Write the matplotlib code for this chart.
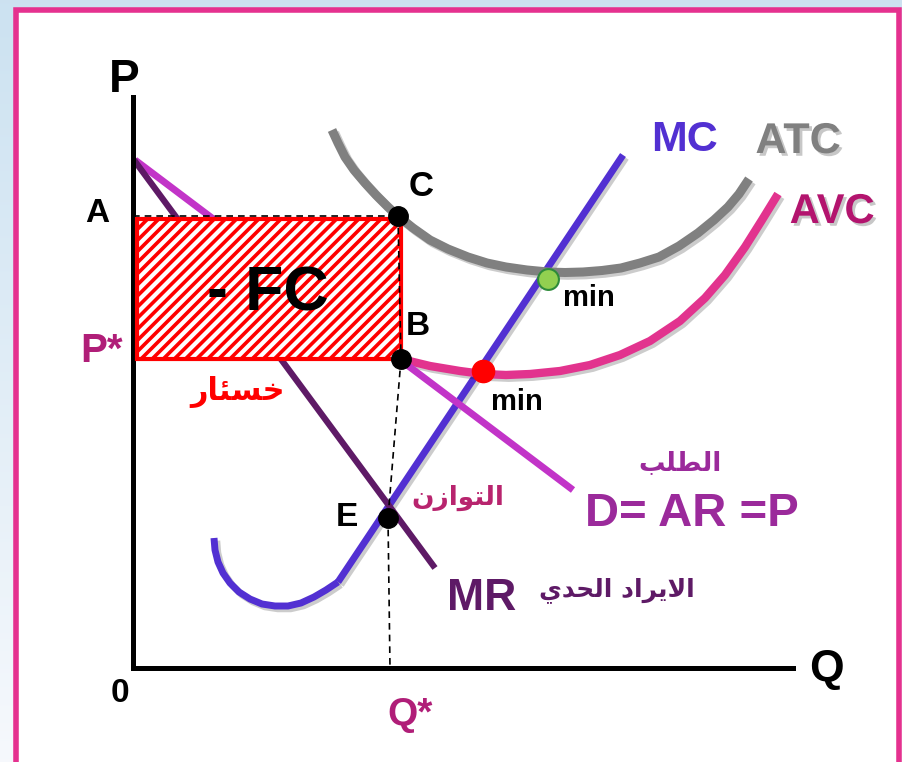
import matplotlib
matplotlib.use('Agg')
import matplotlib.pyplot as plt
import matplotlib.patheffects as pe
from matplotlib.patches import Rectangle
import numpy as np

plt.rcParams['font.family'] = ['Liberation Sans', 'DejaVu Sans']
plt.rcParams['font.weight'] = 'bold'
plt.rcParams['hatch.linewidth'] = 2.6

# curve data (Q, P)
d_q = [0.2, 44.0]
d_p = [50.8, 17.8]
mr_q = [0.1, 30.2]
mr_p = [50.8, 10.0]
mc_hook_q = [8.1, 8.2, 8.5, 9.0, 9.7, 10.6, 11.7, 12.9, 14.2, 15.5, 16.8, 18.1, 19.3, 20.5]
mc_hook_p = [13.0, 11.8, 10.6, 9.5, 8.5, 7.6, 6.9, 6.4, 6.2, 6.2, 6.5, 7.1, 7.8, 8.6]
mc_q = [20.5, 49.0]
mc_p = [8.6, 51.3]
atc_q = [19.9, 20.5, 21.2, 22.1, 23.2, 24.3, 25.5, 26.5, 28.0, 29.7, 31.5, 33.5, 35.4, 37.3,
         39.4, 41.5, 43.2, 45.0, 46.9, 48.8, 50.7, 52.6, 54.6, 56.5, 58.1, 59.5, 60.6, 61.6]
atc_p = [53.8, 52.5, 51.1, 49.8, 48.5, 47.3, 46.1, 45.2, 44.0, 42.8, 41.9, 41.1, 40.5, 40.1,
         39.8, 39.6, 39.55, 39.6, 39.75, 40.0, 40.5, 41.1, 42.2, 43.5, 44.8, 46.1, 47.4, 48.9]
avc_q = [26.8, 29.7, 32.7, 35.0, 37.3, 39.7, 42.7, 45.7, 48.7, 51.7, 54.7, 57.2, 59.2, 61.2,
         62.9, 64.5]
avc_p = [30.9, 30.2, 29.7, 29.4, 29.3, 29.4, 29.7, 30.3, 31.3, 32.7, 34.7, 37.0, 39.3, 42.1,
         44.8, 47.4]

# key levels
q_star = 25.7
p_a = 45.2
loss_q = [0.4, 26.8]
loss_p = [30.9, 44.9]

# points C, B, E and the two minima
pt_c = (26.5, 45.2)
pt_b = (26.8, 30.9)
pt_e = (25.5, 15.0)
min_atc = (41.5, 38.9)
min_avc = (35.0, 29.7)

# arabic labels, shaped (presentation forms, visual order)
txt_loss = '\uFEAD\uFE8E\uFE8C\uFEB4\uFEA7'
txt_eq = '\uFEE5\uFEAF\uFE8D\uFEEE\uFE98\uFEDF\uFE8D'
txt_demand = '\uFE90\uFEE0\uFEC4\uFEDF\uFE8D'
txt_mr = '\uFEF1\uFEAA\uFEA4\uFEDF\uFE8D \uFEA9\uFE8D\uFEAE\uFEF3\uFEFB\uFE8D'

W, H = 903, 762
fig = plt.figure(figsize=(W / 100, H / 100), dpi=100)

# background + pink frame
bg = fig.add_axes([0, 0, 1, 1], zorder=0)
grad = np.linspace(0, 1, 256).reshape(-1, 1)
top = np.array([0.80, 0.886, 0.945])
bot = np.array([0.965, 0.975, 0.99])
img = top + (bot - top) * grad[:, :, None]
bg.imshow(img, extent=[0, W, H, 0], aspect='auto')
bg.add_patch(Rectangle((16, 10), 883, 770, facecolor='white',
                       edgecolor='#e5318f', linewidth=4))
bg.set_xlim(0, W)
bg.set_ylim(H, 0)
bg.axis('off')

ax = fig.add_axes([133 / W, 94 / H, 660 / W, 571 / H], zorder=1)
ax.patch.set_alpha(0)
ax.set_xlim(0, 66)
ax.set_ylim(0, 57.1)
for s in ['top', 'right']:
    ax.spines[s].set_visible(False)
for s in ['left', 'bottom']:
    ax.spines[s].set_linewidth(3.6)
    ax.spines[s].set_capstyle('projecting')
ax.set_xticks([])
ax.set_yticks([])

shadow = [pe.SimpleLineShadow(offset=(2, -2), shadow_color='k', alpha=0.2), pe.Normal()]
line_kw = dict(solid_capstyle='butt', solid_joinstyle='round', path_effects=shadow)

ax.plot(mc_hook_q, mc_hook_p, color='#5230d2', lw=5, **line_kw)
ax.plot(mc_q, mc_p, color='#5230d2', lw=5, **line_kw)
ax.plot(atc_q, atc_p, color='#808080', lw=6.5, **line_kw)
ax.plot(avc_q, avc_p, color='#e2338e', lw=6, **line_kw)
ax.plot(d_q, d_p, color='#c234c8', lw=5, solid_capstyle='butt')
ax.plot(mr_q, mr_p, color='#5e1a66', lw=4.5, solid_capstyle='butt')

# loss area
ax.add_patch(Rectangle((loss_q[0], loss_p[0]), loss_q[1] - loss_q[0], loss_p[1] - loss_p[0],
                       facecolor='white', edgecolor='#ff0000', hatch='///', linewidth=3,
                       zorder=3))

# guide lines
dash = dict(color='k', lw=1.2, ls=(0, (4, 3)), zorder=4)
ax.plot([0, pt_c[0]], [p_a, p_a], **dash)
ax.plot([pt_c[0], pt_b[0]], [pt_c[1], pt_b[1]], **dash)
ax.plot([pt_b[0], pt_e[0]], [pt_b[1], pt_e[1]], **dash)
ax.plot([pt_e[0], q_star], [pt_e[1], 0], **dash)

for p in (pt_c, pt_b, pt_e):
    ax.plot(*p, 'o', color='k', ms=14, zorder=5)
ax.plot(*min_atc, 'o', color='#92d050', mec='#2e8b3a', mew=1.5, ms=15, zorder=5)
ax.plot(*min_avc, 'o', color='#ff0000', ms=16, zorder=5)

txt_shadow = [pe.withSimplePatchShadow(offset=(2, -2), shadow_rgbFace='k', alpha=0.22)]
kw = dict(ha='center', va='center', fontweight='bold', clip_on=False, zorder=6)
ax.text(-0.9, 58.8, 'P', fontsize=33, **kw)
ax.text(69.3, -0.2, 'Q', fontsize=32, **kw)
ax.text(-1.3, -2.5, '0', fontsize=24, **kw)
ax.text(27.7, -4.7, 'Q*', fontsize=28, color='#b01e78', **kw)
ax.text(-3.1, 31.7, 'P*', fontsize=29, color='#b01e78', **kw)
ax.text(-3.6, 45.5, 'A', fontsize=24, **kw)
ax.text(28.8, 48.1, 'C', fontsize=25, **kw)
ax.text(28.5, 34.1, 'B', fontsize=24, **kw)
ax.text(21.4, 15.0, 'E', fontsize=24, **kw)
ax.text(45.6, 37.0, 'min', fontsize=21, **kw)
ax.text(38.4, 26.6, 'min', fontsize=21, **kw)
ax.text(13.5, 37.4, '- FC', fontsize=45, **kw)
ax.text(55.2, 52.8, 'MC', fontsize=31, color='#5230d2', **kw)
ax.text(66.5, 52.6, 'ATC', fontsize=31, color='#808080', path_effects=txt_shadow, **kw)
ax.text(69.9, 45.6, 'AVC', fontsize=30, color='#b3146e', path_effects=txt_shadow, **kw)
ax.text(55.9, 15.4, 'D= AR =P', fontsize=34, color='#9b2a9b', **kw)
ax.text(34.9, 7.0, 'MR', fontsize=32, color='#5e1a66', **kw)

akw = dict(ha='center', va='center', fontweight='bold', family=['DejaVu Sans'],
           clip_on=False, zorder=6)
ax.text(10.5, 27.6, txt_loss, fontsize=22, color='#ff0000', **akw)
ax.text(32.5, 17.0, txt_eq, fontsize=19, color='#b8246e', **akw)
ax.text(54.7, 20.5, txt_demand, fontsize=19, color='#9b2a9b', **akw)
ax.text(48.4, 7.8, txt_mr, fontsize=18, color='#5e1a66', **akw)

fig.savefig('out.png', dpi=100)
